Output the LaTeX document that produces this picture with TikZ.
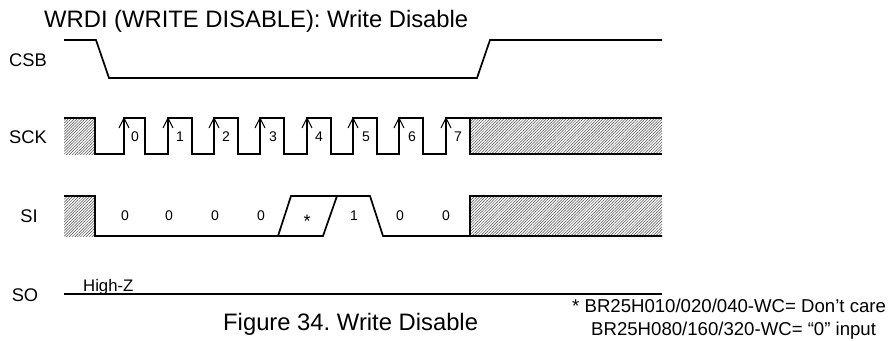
\documentclass[tikz,border=0pt]{standalone}
\usepackage{fontspec}
\setmainfont{Liberation Sans}
\usetikzlibrary{patterns.meta}
\frenchspacing
\tikzset{
  sig/.style={line width=1.7pt,line join=miter,line cap=butt},
  hatch/.style={pattern={Lines[angle=45,distance=2pt,line width=0.5pt]},pattern color=black!70},
  lbl/.style={inner sep=0pt,font=\fontsize{18.3}{21}\selectfont},
  bit/.style={inner sep=0pt,font=\fontsize{14}{16}\selectfont},
  ttl/.style={inner sep=0pt,anchor=base west,font=\fontsize{23.8}{26}\selectfont},
  note/.style={inner sep=0pt,anchor=base west,font=\fontsize{18.6}{21}\selectfont},
  edgearrow/.style={line width=1pt}
}
\begin{document}
\begin{tikzpicture}[x=1pt,y=-1pt]
\useasboundingbox (0,0) rectangle (890,340);
\fill[white] (0,0) rectangle (890,340);
% labels
\node[ttl] (title) at (44,27) {WRDI (WRITE DISABLE): Write Disable};
\node[lbl] (csb) at (28,60) {CSB};
\node[lbl] (sck) at (28,137) {SCK};
\node[lbl] (si) at (29,216) {SI};
\node[lbl] (so) at (25,295) {SO};
\node[ttl] (cap) at (223,330) {Figure 34. Write Disable};
\node[note] (n1) at (572,312) {* BR25H010/020/040-WC= Don’t care};
\node[note] (n2) at (591,335) {BR25H080/160/320-WC= “0” input};
\node[inner sep=0pt,anchor=base west,font=\fontsize{16.7}{19}\selectfont] (hz) at (83,291) {High-Z};
% hatch areas
\fill[hatch] (64,118) rectangle (95,154);
\fill[hatch] (470,118) rectangle (662,154);
\fill[hatch] (64,196) rectangle (95,236);
\fill[hatch] (470,196) rectangle (662,236);
% CSB
\draw[sig] (64,40) -- (96,40) -- (109,78) -- (477,78) -- (490,40) -- (662,40);
% SCK
\draw[sig] (64,118) -- (95,118) -- (95,154) -- (124,154) -- (124,118) -- (145,118) -- (145,154)
  -- (168,154) -- (168,118) -- (192,118) -- (192,154)
  -- (214,154) -- (214,118) -- (238,118) -- (238,154)
  -- (260,154) -- (260,118) -- (284,118) -- (284,154)
  -- (307,154) -- (307,118) -- (331,118) -- (331,154)
  -- (353,154) -- (353,118) -- (377,118) -- (377,154)
  -- (399,154) -- (399,118) -- (423,118) -- (423,154)
  -- (446,154) -- (446,118) -- (470,118) -- (470,154) -- (662,154);
\draw[sig] (470,118) -- (662,118);
% clock arrows and bit numbers
\foreach \x/\d/\t in {124/0/135,168/1/180,214/2/226,260/3/273,307/4/319,353/5/366,399/6/412,446/7/458}{
  \draw[edgearrow] (\x-5,128) -- (\x,118) -- (\x+5,128);
  \node[bit] (c\d) at (\t,137) {\d};
}
% SI
\draw[sig] (64,196) -- (95,196) -- (95,236) -- (323,236) -- (337,196);
\draw[sig] (278,236) -- (291,196) -- (370,196) -- (383,236) -- (662,236);
\draw[sig] (470,236) -- (470,196) -- (662,196);
\foreach \t/\d/\n in {125/0/a,169/0/b,215/0/c,261/0/d,354/1/e,400/0/f,446/0/g}{
  \node[bit] (s\n) at (\t,216) {\d};
}
\node[inner sep=0pt,font=\fontsize{18}{20}\selectfont] (star) at (307,221) {*};
% SO
\draw[sig] (64,294) -- (662,294);
\end{tikzpicture}
\end{document}
